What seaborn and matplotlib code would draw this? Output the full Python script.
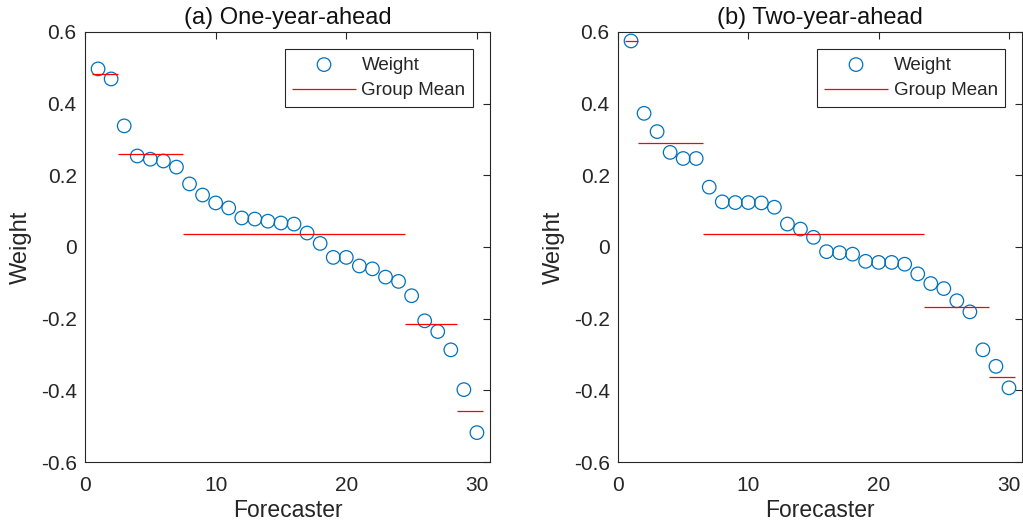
import numpy as np
import pandas as pd
import matplotlib
matplotlib.use("Agg")
import matplotlib.pyplot as plt
import seaborn as sns

sns.set_style("white")
plt.rcParams['font.family'] = ['Liberation Sans', 'DejaVu Sans']

# weights, forecasters 1..30 sorted by weight
forecaster = list(range(1, 31))
w_one = [0.497, 0.469, 0.338, 0.254, 0.245, 0.240, 0.223, 0.176, 0.145, 0.123,
         0.109, 0.081, 0.078, 0.072, 0.067, 0.064, 0.039, 0.010, -0.029, -0.029,
         -0.053, -0.061, -0.084, -0.096, -0.136, -0.206, -0.236, -0.287, -0.398, -0.518]
w_two = [0.575, 0.373, 0.322, 0.264, 0.247, 0.247, 0.167, 0.126, 0.124, 0.124,
         0.123, 0.111, 0.064, 0.050, 0.027, -0.013, -0.016, -0.020, -0.040, -0.043,
         -0.043, -0.048, -0.075, -0.102, -0.116, -0.150, -0.181, -0.287, -0.333, -0.393]
# group sizes (consecutive forecasters)
groups_one = [2, 5, 17, 4, 2]
groups_two = [1, 5, 17, 5, 2]

titles = ["(a) One-year-ahead", "(b) Two-year-ahead"]

blue = "#0072BD"
W, H = 1023, 526
fig = plt.figure(figsize=(W / 100, H / 100), dpi=100)
ax1 = fig.add_axes([85 / W, 64 / H, 405 / W, 430 / H])
ax2 = fig.add_axes([618 / W, 64 / H, 404 / W, 430 / H])


def panel(ax, w, groups, title):
    df = pd.DataFrame({"Forecaster": forecaster, "Weight": w})
    sns.scatterplot(data=df, x="Forecaster", y="Weight", ax=ax, marker="o", s=95,
                    facecolors="none", edgecolor=blue, linewidth=0.9, label="Weight")
    start = 0
    for i, n in enumerate(groups):
        m = np.mean(w[start:start + n])
        ax.hlines(m, start + 0.5, start + n + 0.5, color="red", linewidth=0.9,
                  label="Group Mean" if i == 0 else None)
        start += n
    ax.set_xlim(0, 31)
    ax.set_ylim(-0.6, 0.6)
    ax.set_xticks([0, 10, 20, 30])
    ax.set_yticks(np.arange(-0.6, 0.61, 0.2))
    ax.set_yticklabels(["-0.6", "-0.4", "-0.2", "0", "0.2", "0.4", "0.6"])
    ax.tick_params(direction="in", length=5, width=0.8, top=True, right=True,
                   labelsize=15, colors="#262626")
    ax.tick_params(axis="x", pad=10)
    ax.tick_params(axis="y", pad=6)
    for sp in ax.spines.values():
        sp.set_color("#262626")
        sp.set_linewidth(0.8)
    ax.set_title(title, fontsize=17, color="#111111", pad=6)
    ax.set_xlabel("Forecaster", fontsize=16.5, color="#262626", labelpad=3)
    ax.set_ylabel("Weight", fontsize=17, color="#262626", labelpad=6)
    leg = ax.legend(loc="upper right", fontsize=13.5, handlelength=3.4,
                    fancybox=False, framealpha=1, edgecolor="#262626",
                    borderaxespad=0.9, labelspacing=0.45, handletextpad=0.3,
                    borderpad=0.4)
    leg.get_frame().set_linewidth(0.8)


panel(ax1, w_one, groups_one, titles[0])
panel(ax2, w_two, groups_two, titles[1])

fig.savefig("out.png", dpi=100)
